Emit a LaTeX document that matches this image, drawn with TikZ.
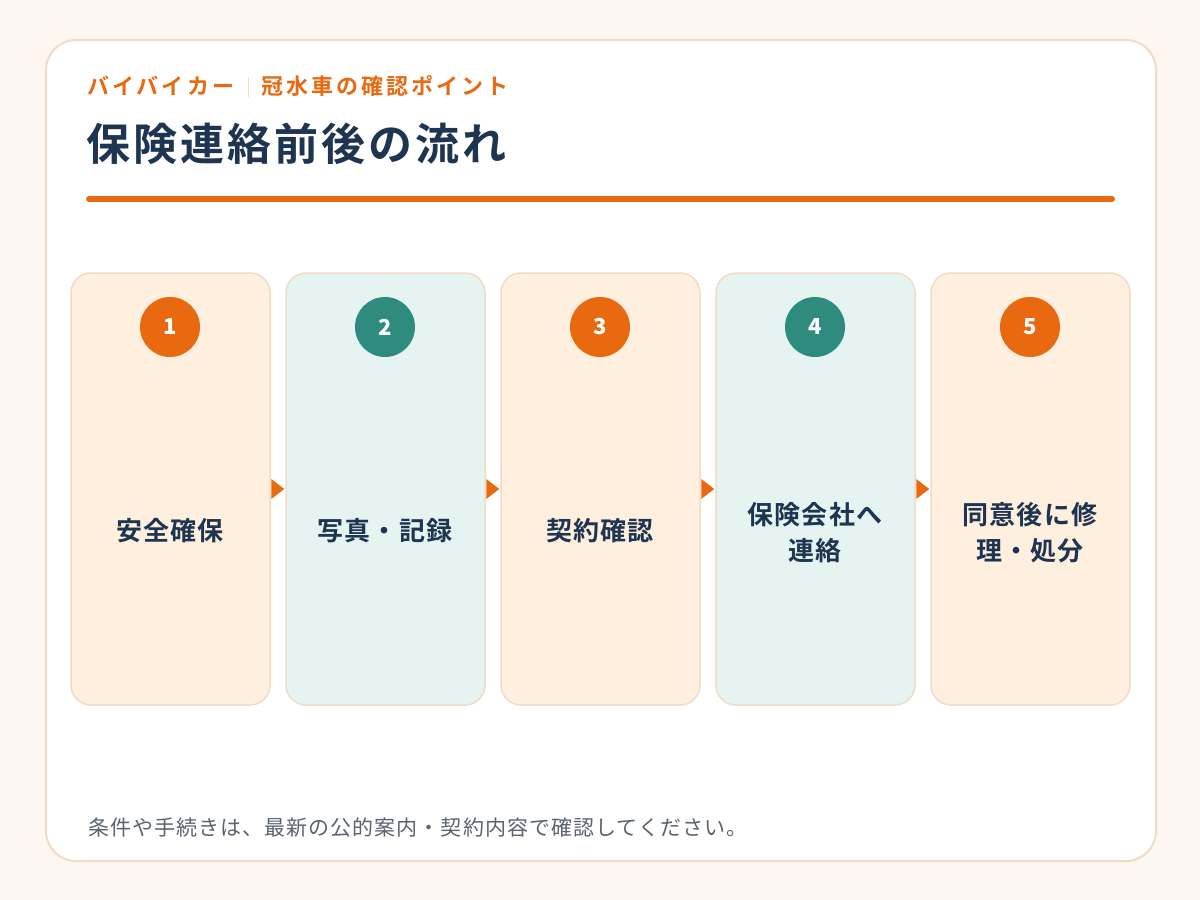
\documentclass[tikz,border=0pt]{standalone}
\usepackage{fontspec}
\setmainfont{Noto Sans CJK JP}
\newfontfamily\subfont{Noto Sans CJK JP Bold}[LetterSpace=14]
\newfontfamily\titlefont{Noto Sans CJK JP Bold}[LetterSpace=7]
\newfontfamily\lblfont{Noto Sans CJK JP Bold}[LetterSpace=4]
\newfontfamily\footfont{Noto Sans CJK JP}[LetterSpace=5]
\definecolor{bgc}{HTML}{FEF6F0}
\definecolor{cardb}{HTML}{F0DCC6}
\definecolor{orng}{HTML}{E8690F}
\definecolor{teal}{HTML}{2E8B7E}
\definecolor{navy}{HTML}{1D3550}
\definecolor{fillO}{HTML}{FEEFDF}
\definecolor{fillT}{HTML}{E6F4F1}
\definecolor{gry}{HTML}{5A6470}
\tikzset{
  stepbox/.style={draw=cardb, line width=1.5pt, rounded corners=20pt, minimum width=199pt, minimum height=432pt, inner sep=0pt},
  obox/.style={stepbox, fill=fillO},
  tbox/.style={stepbox, fill=fillT},
  numc/.style={circle, minimum size=60pt, inner sep=0pt, text=white, font=\fontsize{22pt}{24pt}\selectfont\bfseries},
  lbl/.style={text=navy, align=center, font=\fontsize{26pt}{36pt}\lblfont},
  arr/.style={fill=orng}
}
\begin{document}
\begin{tikzpicture}[x=1pt,y=-1pt]
\useasboundingbox (0,0) rectangle (1200,900);
\fill[bgc] (0,0) rectangle (1200,900);
\draw[cardb, fill=white, line width=2pt, rounded corners=30pt] (46,40) rectangle (1156,861);
\node[anchor=west, text=orng, inner sep=0pt, font=\fontsize{22pt}{24pt}\subfont] (sub1) at (87,86) {バイバイカー};
\draw[cardb!80!orng!60, line width=1pt] (248,77) -- (248,97);
\node[anchor=west, text=orng, inner sep=0pt, font=\fontsize{22pt}{24pt}\subfont] (sub2) at (261,86) {冠水車の確認ポイント};
\node[anchor=west, text=navy, inner sep=0pt, font=\fontsize{44pt}{48pt}\titlefont] (title) at (86,144) {保険連絡前後の流れ};
\draw[orng, line width=6pt, line cap=round] (89,199) -- (1112,199);
% boxes
\node[obox] (b1) at (170.5,489) {};
\node[tbox] (b2) at (385.5,489) {};
\node[obox] (b3) at (600.5,489) {};
\node[tbox] (b4) at (815.5,489) {};
\node[obox] (b5) at (1030.5,489) {};
% circles
\node[numc, fill=orng] (n1) at (170,327) {1};
\node[numc, fill=teal] (n2) at (385,327) {2};
\node[numc, fill=orng] (n3) at (600,327) {3};
\node[numc, fill=teal] (n4) at (815,327) {4};
\node[numc, fill=orng] (n5) at (1030,327) {5};
% labels
\node[lbl] (l1) at (170,531) {安全確保};
\node[lbl] (l2) at (385,531) {写真・記録};
\node[lbl] (l3) at (600,531) {契約確認};
\node[lbl] (l4) at (815,533) {保険会社へ\\連絡};
\node[lbl] (l5) at (1030,533) {同意後に修\\理・処分};
% arrows
\foreach \a/\b in {b1/b2,b2/b3,b3/b4,b4/b5}{
  \fill[arr] ([xshift=0.5pt,yshift=-10pt]\a.east) -- ([xshift=-1pt]\b.west) -- ([xshift=0.5pt,yshift=10pt]\a.east) -- cycle;
}
\node[anchor=west, text=gry, inner sep=0pt, font=\fontsize{21pt}{24pt}\footfont] (foot) at (88,828) {条件や手続きは、最新の公的案内・契約内容で確認してください。};
\end{tikzpicture}
\end{document}
